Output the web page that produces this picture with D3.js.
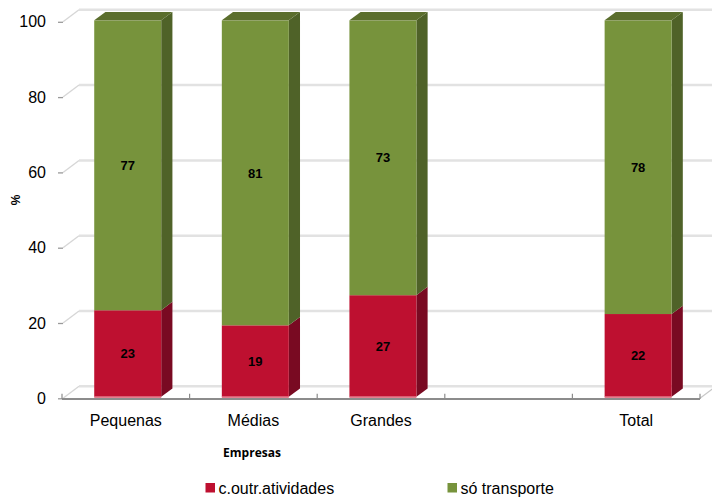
<!DOCTYPE html>
<html>
<head>
<meta charset="utf-8">
<script src="https://cdn.jsdelivr.net/npm/d3@7"></script>
<style>
  html, body { margin: 0; padding: 0; background: #fff; }
  svg { display: block; }
</style>
</head>
<body>
<svg id="chart" width="712" height="500"></svg>
<script>
// Company size groups (the blank slot is an empty gap before "Total")
const categories = ["Pequenas", "Médias", "Grandes", " ", "Total"];
const otherActivities = [23, 19, 27, null, 22];   // c.outr.atividades
const transportOnly   = [77, 81, 73, null, 78];   // só transporte
const yTicks = [0, 20, 40, 60, 80, 100];
const seriesNames = ["c.outr.atividades", "só transporte"];

const colors = {
  red:   { front: "#be1030", side: "#790a22", top: "#9a0d29" },
  green: { front: "#77933c", side: "#4f6228", top: "#5b6e2d" }
};

const svg = d3.select("#chart");
const font = "'Liberation Sans', Arial, sans-serif";

// Front plane scales
const x = d3.scaleBand().domain(categories).range([62, 700])
  .paddingInner(0.475).paddingOuter(0.2375);
const y = d3.scaleLinear().domain([0, 100]).range([398.3, 21.8]);

// Depth of the 3D box (front plane -> back wall)
const D = { dx: 16, dy: -12 };
const fFront = 0.12, fBack = 0.82;

// Back wall gridlines
const grid = svg.append("g");
yTicks.forEach(v => {
  const yf = y(v);
  grid.append("line")
    .attr("x1", 63 + D.dx).attr("x2", 716 + D.dx)
    .attr("y1", yf + D.dy).attr("y2", yf + D.dy)
    .attr("stroke", "#e2e2e2").attr("stroke-width", 2.5);
  grid.append("line")
    .attr("x1", 63).attr("y1", yf)
    .attr("x2", 63 + D.dx).attr("y2", yf + D.dy)
    .attr("stroke", "#d6d6d6").attr("stroke-width", 1.3);
});
// right floor edge
grid.append("line")
  .attr("x1", 700).attr("y1", y(0))
  .attr("x2", 700 + D.dx).attr("y2", y(0) + D.dy)
  .attr("stroke", "#c8c8c8").attr("stroke-width", 1.3);

// Y axis (ticks + labels on the front plane)
const yAxis = svg.append("g")
  .attr("transform", "translate(63,0)")
  .call(d3.axisLeft(y).tickValues(yTicks).tickSize(5).tickPadding(12));
yAxis.select(".domain").remove();
yAxis.selectAll(".tick line").attr("stroke", "#9a9a9a").attr("stroke-width", 1.3);
yAxis.selectAll(".tick text")
  .attr("font-family", font).attr("font-size", 16).attr("fill", "#000");

// Floor front edge
svg.append("line")
  .attr("x1", 62).attr("x2", 700)
  .attr("y1", y(0) + 0.7).attr("y2", y(0) + 0.7)
  .attr("stroke", "#8c8c8c").attr("stroke-width", 1.8);
// Category boundary ticks
d3.range(categories.length + 1).forEach(i => {
  const xb = 62 + i * x.step();
  svg.append("line")
    .attr("x1", xb).attr("x2", xb)
    .attr("y1", y(0) + 0.7).attr("y2", y(0) - 4.5)
    .attr("stroke", "#8c8c8c").attr("stroke-width", 1.2);
});

// X axis labels
const xAxis = svg.append("g")
  .attr("transform", `translate(0,${y(0)})`)
  .call(d3.axisBottom(x).tickSize(0).tickPadding(16));
xAxis.select(".domain").remove();
xAxis.selectAll(".tick text")
  .attr("font-family", font).attr("font-size", 16).attr("fill", "#000");

// Stacked 3D bars
const barsG = svg.append("g");
const stacks = categories.map((c, i) => ({
  cat: c,
  segs: otherActivities[i] == null ? [] : [
    { v0: 0, v1: otherActivities[i], col: colors.red },
    { v0: otherActivities[i], v1: otherActivities[i] + transportOnly[i], col: colors.green }
  ],
  labels: otherActivities[i] == null ? [] : [otherActivities[i], transportOnly[i]]
}));

stacks.forEach(s => {
  if (!s.segs.length) return;
  const x0 = x(s.cat) + fFront * D.dx;
  const x1 = x0 + x.bandwidth();
  const off = { dx: (fBack - fFront) * D.dx, dy: (fBack - fFront) * D.dy };
  const yF = v => y(v) + fFront * D.dy;

  s.segs.forEach((seg, k) => {
    const yt = yF(seg.v1), yb = yF(seg.v0);
    // right side face
    barsG.append("path")
      .attr("d", `M${x1},${yt} L${x1 + off.dx},${yt + off.dy} L${x1 + off.dx},${yb + off.dy} L${x1},${yb} Z`)
      .attr("fill", seg.col.side);
    // front face
    barsG.append("rect")
      .attr("x", x0).attr("y", yt)
      .attr("width", x1 - x0).attr("height", yb - yt)
      .attr("fill", seg.col.front);
    // top face of the uppermost segment
    if (k === s.segs.length - 1) {
      barsG.append("path")
        .attr("d", `M${x0},${yt} L${x0 + off.dx},${yt + off.dy} L${x1 + off.dx},${yt + off.dy} L${x1},${yt} Z`)
        .attr("fill", seg.col.top);
    }
    // value label
    barsG.append("text")
      .attr("x", (x0 + x1) / 2).attr("y", (yt + yb) / 2)
      .attr("dy", "0.36em")
      .attr("text-anchor", "middle")
      .attr("font-family", font).attr("font-size", 13).attr("font-weight", "bold")
      .attr("fill", "#000")
      .text(s.labels[k]);
  });
  // light bottom edge of the bar
  barsG.append("rect")
    .attr("x", x0).attr("y", yF(0) - 0.5)
    .attr("width", x1 - x0).attr("height", 1.6)
    .attr("fill", "#e37a8b");
});

// Y axis title
svg.append("text")
  .attr("transform", "translate(20,200) rotate(-90)")
  .attr("text-anchor", "middle")
  .attr("font-family", font).attr("font-size", 12).attr("font-weight", "bold")
  .text("%");

// X axis title
svg.append("text")
  .attr("x", 252).attr("y", 457)
  .attr("text-anchor", "middle")
  .attr("font-family", "'Open Sans', sans-serif").attr("font-size", 12).attr("font-weight", "bold")
  .text("Empresas");

// Legend
const legendX = [205.5, 447.5];
const legendCols = [colors.red.front, colors.green.front];
seriesNames.forEach((name, i) => {
  svg.append("rect")
    .attr("x", legendX[i]).attr("y", 483)
    .attr("width", 9.5).attr("height", 9.5)
    .attr("fill", legendCols[i]);
  svg.append("text")
    .attr("x", legendX[i] + 13).attr("y", 493.5)
    .attr("font-family", font).attr("font-size", 16)
    .text(name);
});
</script>
</body>
</html>
